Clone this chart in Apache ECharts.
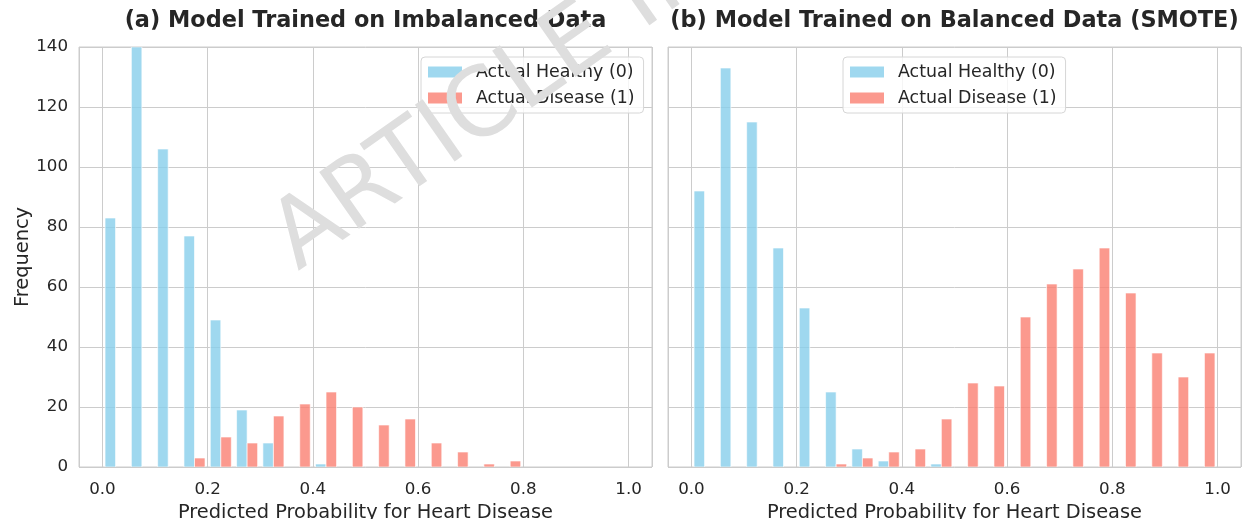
<!DOCTYPE html>
<html>
<head>
<meta charset="utf-8">
<script src="https://cdn.jsdelivr.net/npm/echarts@6/dist/echarts.min.js"></script>
<style>
html,body{margin:0;padding:0;background:#fff;}
#chart{width:1248px;height:519px;}
</style>
</head>
<body>
<div id="chart"></div>
<script>
// Histogram bin starts (bin width 0.05)
const binStarts = [0.00,0.05,0.10,0.15,0.20,0.25,0.30,0.35,0.40,0.45,0.50,0.55,0.60,0.65,0.70,0.75,0.80,0.85,0.90,0.95];
// (a) Imbalanced
const healthyA = [83,140,106,77,49,19,8,0,1,0,0,0,0,0,0,0,0,0,0,0];
const diseaseA = [0,0,0,3,10,8,17,21,25,20,14,16,8,5,1,2,0,0,0,0];
// (b) Balanced (SMOTE)
const healthyB = [92,133,115,73,53,25,6,2,0,1,0,0,0,0,0,0,0,0,0,0];
const diseaseB = [0,0,0,0,0,1,3,5,6,16,28,27,50,61,66,73,58,38,30,38];
const xTicks = [0.0,0.2,0.4,0.6,0.8,1.0];
const yTicks = [0,20,40,60,80,100,120,140];
const titles = ['(a) Model Trained on Imbalanced Data','(b) Model Trained on Balanced Data (SMOTE)'];
const seriesNames = ['Actual Healthy (0)','Actual Disease (1)'];

const FONT = '"DejaVu Sans", sans-serif';
const TXT = '#262626';
const COLORS = ['#87CEEB','#FA8072'];
const BINW = 0.05;

function render(slot){
  return function(params, api){
    const start = api.value(0), v = api.value(1);
    if (!v) return null;
    const x0 = start + BINW*(0.1 + 0.4*slot);
    const x1 = x0 + BINW*0.4;
    const p0 = api.coord([x0, v]);
    const p1 = api.coord([x1, 0]);
    return {
      type:'rect',
      shape:{x:p0[0], y:p0[1], width:p1[0]-p0[0], height:p1[1]-p0[1]},
      style:{fill:COLORS[slot], stroke:'#ffffff', lineWidth:0.8, opacity:0.8}
    };
  };
}
function mk(name, slot, vals, gi){
  return {
    type:'custom', name:name, xAxisIndex:gi, yAxisIndex:gi,
    renderItem: render(slot),
    itemStyle:{color:COLORS[slot], opacity:0.8},
    encode:{x:0, y:1},
    data: binStarts.map((b,i)=>[b, vals[i]]),
    clip:true
  };
}
function xAxis(gi){
  return {
    type:'value', gridIndex:gi, min:-0.0445, max:1.0445,
    minInterval:0.2, maxInterval:0.2,
    name:'Predicted Probability for Heart Disease', nameLocation:'middle', nameGap:43,
    nameTextStyle:{fontFamily:FONT, fontSize:19.4, color:TXT, verticalAlign:'middle'},
    axisLine:{show:false}, axisTick:{show:false},
    axisLabel:{
      fontFamily:FONT, fontSize:16.7, color:TXT, margin:23, verticalAlign:'middle',
      formatter:function(v){
        for (const t of xTicks){ if (Math.abs(v-t)<1e-6) return t.toFixed(1); }
        return '';
      }
    },
    splitLine:{show:true, lineStyle:{color:'#cccccc', width:1}}
  };
}
function yAxis(gi){
  return {
    type:'value', gridIndex:gi, min:yTicks[0], max:yTicks[yTicks.length-1], interval:20,
    name: gi===0 ? 'Frequency' : '', nameLocation:'middle', nameGap:56,
    nameTextStyle:{fontFamily:FONT, fontSize:19.4, color:TXT, verticalAlign:'middle'},
    axisLine:{show:false}, axisTick:{show:false},
    axisLabel:{show: gi===0, fontFamily:FONT, fontSize:16.7, color:TXT, margin:11},
    splitLine:{show:true, lineStyle:{color:'#cccccc', width:1}}
  };
}
function legend(left){
  return {
    left:left, top:57, orient:'vertical',
    data:seriesNames.map(n=>({name:n, icon:'rect'})),
    itemWidth:34, itemHeight:11, itemGap:8,
    padding:[6,9,6,7],
    backgroundColor:'rgba(255,255,255,0.8)',
    borderColor:'#d6d6d6', borderWidth:1, borderRadius:4,
    selectedMode:false,
    textStyle:{fontFamily:FONT, fontSize:17.4, color:TXT, lineHeight:18, padding:[0,0,0,9]}
  };
}

const chart = echarts.init(document.getElementById('chart'), null, {renderer:'canvas'});
chart.setOption({
  animation:false,
  backgroundColor:'#ffffff',
  grid:[
    {left:79, top:47, width:573, height:420, show:true, borderColor:'#cccccc', borderWidth:1, backgroundColor:'transparent', containLabel:false, outerBoundsMode:'none'},
    {left:668, top:47, width:573, height:420, show:true, borderColor:'#cccccc', borderWidth:1, backgroundColor:'transparent', containLabel:false, outerBoundsMode:'none'}
  ],
  xAxis:[xAxis(0), xAxis(1)],
  yAxis:[yAxis(0), yAxis(1)],
  legend:[legend(421), legend(843)],
  series:[
    mk(seriesNames[0],0,healthyA,0), mk(seriesNames[1],1,diseaseA,0),
    mk(seriesNames[0],0,healthyB,1), mk(seriesNames[1],1,diseaseB,1)
  ],
  graphic:[
    {type:'text', x:365.5, y:21.5, z:50, style:{text:titles[0], textAlign:'center', textVerticalAlign:'middle', font:'bold 22.4px "DejaVu Sans", sans-serif', fill:TXT}},
    {type:'text', x:954.5, y:21.5, z:50, style:{text:titles[1], textAlign:'center', textVerticalAlign:'middle', font:'bold 22.4px "DejaVu Sans", sans-serif', fill:TXT}},
    {type:'text', x:311, y:290, rotation:35*Math.PI/180, z:100, silent:true,
     style:{text:'ARTICLE IN PRESS', textAlign:'left', textVerticalAlign:'bottom', font:'95px "DejaVu Sans", sans-serif', fill:'#dedede'}}
  ]
});
</script>
</body>
</html>
